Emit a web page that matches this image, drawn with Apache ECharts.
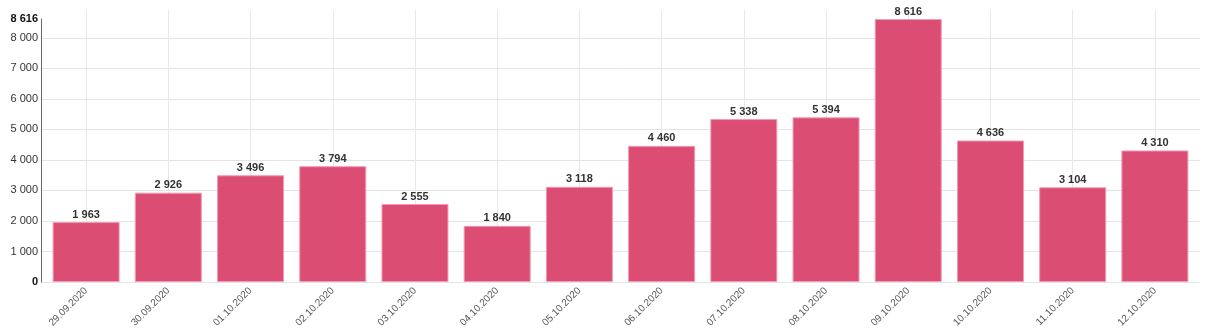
<!DOCTYPE html>
<html><head><meta charset="utf-8">
<script src="https://cdn.jsdelivr.net/npm/echarts@6/dist/echarts.min.js"></script>
<style>html,body{margin:0;padding:0;background:#fff}#c{width:1207px;height:335px}</style>
</head><body><div id="c"></div>
<script>
const categories = ['29.09.2020','30.09.2020','01.10.2020','02.10.2020','03.10.2020','04.10.2020','05.10.2020','06.10.2020','07.10.2020','08.10.2020','09.10.2020','10.10.2020','11.10.2020','12.10.2020'];
const values = [1963, 2926, 3496, 3794, 2555, 1840, 3118, 4460, 5338, 5394, 8616, 4636, 3104, 4310];
const yMax = 8616;
const yGridMax = 8000;
const yInterval = 1000;

function fmt(v){ return String(v).replace(/\B(?=(\d{3})+(?!\d))/g, ' '); }
const FONT = 'Liberation Sans, Arial, sans-serif';
const chart = echarts.init(document.getElementById('c'), null, {renderer:'canvas'});
chart.setOption({
  animation: false,
  grid: [
    {left: 45, right: 11, top: 19, bottom: 53},
    {left: 45, right: 11, top: 10, bottom: 53},
    {left: 41, right: 7, top: 38, bottom: 53}
  ],
  xAxis: [
    {gridIndex: 0, type: 'category', data: categories,
     axisLine: {show: false}, axisTick: {show: false}, splitLine: {show: false},
     axisLabel: {rotate: 45, margin: 7, fontFamily: FONT, fontSize: 10, color: '#555', interval: 0}},
    {gridIndex: 1, type: 'category', data: categories,
     axisLine: {show: false}, axisTick: {show: false}, axisLabel: {show: false},
     splitLine: {show: true, alignWithLabel: true, lineStyle: {color: '#e8e8e8', width: 1}}},
    {gridIndex: 2, type: 'value', min: 0, max: 1, show: false, splitLine: {show: false}}
  ],
  yAxis: [
    {gridIndex: 0, type: 'value', min: 0, max: yMax, interval: yInterval, offset: 4,
     axisLine: {show: true, lineStyle: {color: '#666', width: 1}}, axisTick: {show: false},
     splitLine: {show: false},
     axisLabel: {margin: 3, fontFamily: FONT, fontSize: 11, color: '#333',
       formatter: function(v){ return (v === yMax || v === 0) ? '{b|' + fmt(v) + '}' : fmt(v); },
       rich: {b: {fontWeight: 'bold', fontFamily: FONT, fontSize: 11, color: '#111'}}}},
    {gridIndex: 1, type: 'value', min: 0, max: 1, show: false, splitLine: {show: false}},
    {gridIndex: 2, type: 'value', min: 0, max: yGridMax, interval: yInterval,
     axisLine: {show: false}, axisTick: {show: false}, axisLabel: {show: false},
     splitLine: {show: true, lineStyle: {color: '#e4e4e4', width: 1}}}
  ],
  series: [{
    type: 'bar', xAxisIndex: 0, yAxisIndex: 0, data: values,
    barCategoryGap: '18.5%',
    itemStyle: {color: '#dc4d73', borderColor: '#f19bb4', borderWidth: 1},
    label: {show: true, position: 'top', distance: 2, fontFamily: FONT, fontSize: 11,
      fontWeight: 'bold', color: '#333', formatter: function(p){ return fmt(p.value); }}
  }]
});
</script></body></html>
